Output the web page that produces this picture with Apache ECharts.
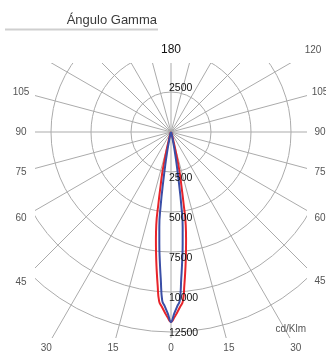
<!DOCTYPE html>
<html>
<head>
<meta charset="utf-8">
<script src="https://cdn.jsdelivr.net/npm/echarts@6/dist/echarts.min.js"></script>
<style>
html, body { margin: 0; padding: 0; background: #fff; }
#chart { width: 326px; height: 355px; }
</style>
</head>
<body>
<div id="chart"></div>
<script>
// gamma angles (deg from nadir) and intensities in cd/klm
var gamma = [0, 1, 2, 3, 4, 5, 6, 7, 8, 9, 10, 11, 12, 13, 14, 15, 17.5, 20, 25, 30, 45, 60, 90];
var redCurve = [11875, 11600, 11270, 10940, 10610, 9590, 8600, 7660, 6770, 5890, 4490, 3380, 2650, 1740, 1000, 600, 250, 120, 60, 40, 20, 10, 0];
var blueCurve = [11875, 11360, 10920, 10540, 9180, 8050, 6980, 5990, 4630, 3020, 1950, 1220, 750, 450, 300, 200, 120, 80, 50, 40, 20, 10, 0];

var ringLabels = [2500, 5000, 7500, 10000, 12500];
var upLabels = [2500];
var leftLabels = [0, 15, 30, 45, 60, 75, 90, 105];
var rightLabels = [15, 30, 45, 60, 75, 90, 105, 120];
var topLabels = [180];
var titleText = 'Ángulo Gamma';
var unitText = 'cd/Klm';

var myChart = echarts.init(document.getElementById('chart'));

// left half uses the angle as is, right half mirrors it
function curve(vals) {
	var out = [];
	for (var i = gamma.length - 1; i >= 0; i--) {
		out.push([vals[i], gamma[i]]);
	}
	for (var j = 1; j < gamma.length; j++) {
		out.push([vals[j], 360 - gamma[j]]);
	}
	return out;
}

var gridColor = '#ababab';

myChart.setOption({
	animation: false,
	polar: {
		center: [171, 132],
		radius: 256
	},
	angleAxis: {
		type: 'value',
		min: 0,
		max: 360,
		interval: 15,
		startAngle: 270,
		clockwise: true,
		axisLine: { show: false },
		axisTick: { show: false },
		axisLabel: { show: false },
		splitLine: { show: true, lineStyle: { color: gridColor, width: 1 } }
	},
	radiusAxis: {
		type: 'value',
		min: 0,
		max: 16000,
		interval: 2500,
		axisLine: { show: false },
		axisTick: { show: false },
		axisLabel: { show: false },
		splitLine: {
			show: true,
			lineStyle: {
				color: [gridColor, gridColor, gridColor, gridColor, gridColor, gridColor, 'rgba(0,0,0,0)', 'rgba(0,0,0,0)'],
				width: 1
			}
		}
	},
	series: [
		{
			name: 'C0-C180',
			type: 'line',
			coordinateSystem: 'polar',
			data: curve(redCurve),
			smooth: true,
			symbol: 'none',
			lineStyle: { color: '#e8242a', width: 2 },
			z: 3
		},
		{
			name: 'C90-C270',
			type: 'line',
			coordinateSystem: 'polar',
			data: curve(blueCurve),
			smooth: true,
			symbol: 'none',
			lineStyle: { color: '#3a4ea6', width: 2 },
			z: 4
		}
	]
});

// grid is clipped to a box, labels sit on a slightly bigger box
var clip = { x1: 35, y1: 63, x2: 307, y2: 338 };
var lab = { x1: 21, y1: 50, x2: 320, y2: 348 };

var c = myChart.convertToPixel({ polarIndex: 0 }, [0, 0]);
function dir(a) {
	var p = myChart.convertToPixel({ polarIndex: 0 }, [12500, a]);
	var dx = p[0] - c[0], dy = p[1] - c[1];
	var len = Math.sqrt(dx * dx + dy * dy);
	return [dx / len, dy / len];
}
function hitBox(d, box) {
	var t = Infinity;
	if (d[0] < -1e-6) t = Math.min(t, (box.x1 - c[0]) / d[0]);
	if (d[0] > 1e-6) t = Math.min(t, (box.x2 - c[0]) / d[0]);
	if (d[1] < -1e-6) t = Math.min(t, (box.y1 - c[1]) / d[1]);
	if (d[1] > 1e-6) t = Math.min(t, (box.y2 - c[1]) / d[1]);
	return [c[0] + d[0] * t, c[1] + d[1] * t];
}

var graphics = [];
// white masks outside the clip box
graphics.push({ type: 'rect', z: 100, shape: { x: 0, y: 0, width: 326, height: clip.y1 }, style: { fill: '#fff' } });
graphics.push({ type: 'rect', z: 100, shape: { x: 0, y: clip.y2, width: 326, height: 355 - clip.y2 }, style: { fill: '#fff' } });
graphics.push({ type: 'rect', z: 100, shape: { x: 0, y: 0, width: clip.x1, height: 355 }, style: { fill: '#fff' } });
graphics.push({ type: 'rect', z: 100, shape: { x: clip.x2, y: 0, width: 326 - clip.x2, height: 355 }, style: { fill: '#fff' } });

function angleLabel(txt, a, color, size) {
	var p = hitBox(dir(a), lab);
	graphics.push({
		type: 'text', z: 110, x: p[0], y: p[1],
		style: { text: String(txt), fill: color, font: size + 'px "Liberation Sans"', textAlign: 'center', textVerticalAlign: 'middle' }
	});
}
leftLabels.forEach(function (v) { angleLabel(v, v, '#555', 10); });
rightLabels.forEach(function (v) { angleLabel(v, 360 - v, '#555', 10); });
topLabels.forEach(function (v) { angleLabel(v, v, '#111', 12); });

// intensity labels along the nadir and zenith axes
ringLabels.forEach(function (v, i) {
	var p = myChart.convertToPixel({ polarIndex: 0 }, [v, 0]);
	var last = i === ringLabels.length - 1;
	graphics.push({
		type: 'text', z: 110, x: p[0] - 2, y: last ? p[1] + 1 : p[1] + 6,
		style: { text: String(v), fill: '#111', font: '10.5px "Liberation Sans"', textAlign: 'left', textVerticalAlign: 'middle' }
	});
});
upLabels.forEach(function (v) {
	var p = myChart.convertToPixel({ polarIndex: 0 }, [v, 180]);
	graphics.push({
		type: 'text', z: 110, x: p[0] - 2, y: p[1] - 4,
		style: { text: String(v), fill: '#111', font: '10.5px "Liberation Sans"', textAlign: 'left', textVerticalAlign: 'middle' }
	});
});

graphics.push({
	type: 'text', z: 110, x: 306, y: 329,
	style: { text: unitText, fill: '#555', font: '10px "Liberation Sans"', textAlign: 'right', textVerticalAlign: 'middle' }
});
graphics.push({
	type: 'text', z: 110, x: 157, y: 20,
	style: { text: titleText, fill: '#3a3a3a', font: '13px "Liberation Sans"', textAlign: 'right', textVerticalAlign: 'middle' }
});
graphics.push({
	type: 'line', z: 110, shape: { x1: 5, y1: 29.5, x2: 158, y2: 29.5 },
	style: { stroke: '#cfcfcf', lineWidth: 2 }
});

myChart.setOption({ graphic: graphics });

window.addEventListener('resize', function () {
	myChart.resize();
});
</script>
</body>
</html>
